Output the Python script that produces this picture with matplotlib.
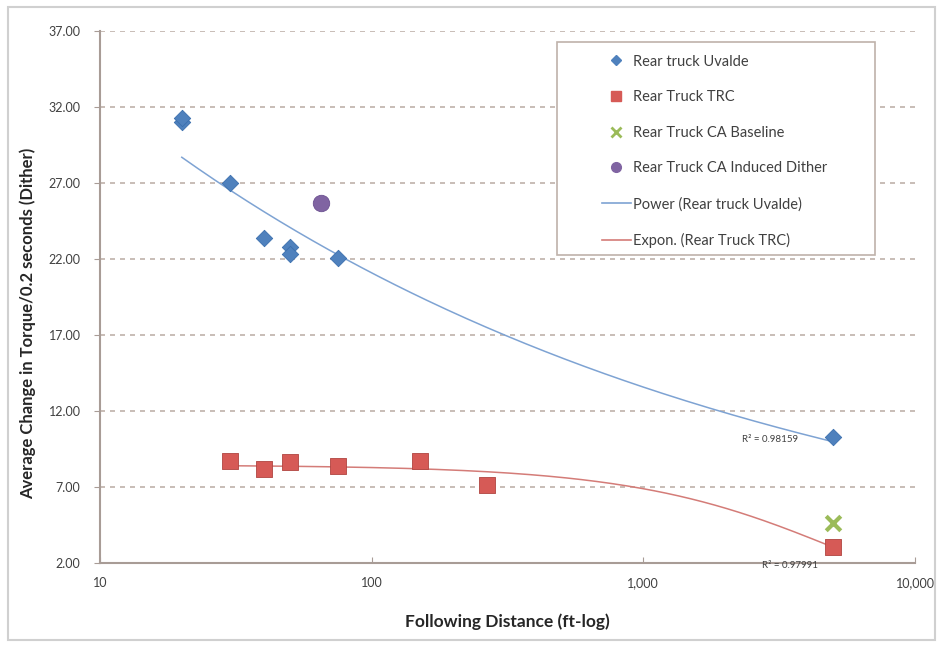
import numpy as np
import matplotlib
matplotlib.use("Agg")
import matplotlib.pyplot as plt
from matplotlib.lines import Line2D
from matplotlib.ticker import FixedLocator, FuncFormatter

plt.rcParams['font.family'] = ['Lato', 'DejaVu Sans']

# ---- data ----
uvalde_x = [20, 20, 30, 40, 50, 50, 75, 5000]
uvalde_y = [31.0, 31.3, 27.0, 23.4, 22.8, 22.3, 22.05, 10.3]

trc_x = [30, 40, 50, 75, 150, 265, 5000]
trc_y = [8.7, 8.2, 8.65, 8.4, 8.7, 7.1, 3.05]

ca_base_x = [5000]
ca_base_y = [4.6]

ca_dither_x = [65]
ca_dither_y = [25.7]

y_ticks = [2, 7, 12, 17, 22, 27, 32, 37]
x_ticks = [10, 100, 1000, 10000]
x_tick_labels = ["10", "100", "1,000", "10,000"]

r2_power = "R² = 0.98159"
r2_expon = "R² = 0.97991"

# ---- colours ----
c_blue = "#4F81BD"
c_red = "#C0504D"
c_green = "#9BBB59"
c_purple = "#8064A2"
c_grid = "#BFB2AA"
c_spine = "#A89C96"
c_text = "#404040"

fig = plt.figure(figsize=(9.41, 6.47), dpi=100)
# outer chart border
fig.patches.append(plt.Rectangle((8/941, 7/647), 927/941, 633/647, transform=fig.transFigure,
                                 fill=False, edgecolor="#D0D0D0", linewidth=1.5))
ax = fig.add_axes([100/941, 1 - 563/647, 815/941, 532/647])

ax.set_xscale("log")
ax.set_xlim(10, 10000)
ax.set_ylim(2, 37)

# trendlines (fitted to the data, Excel-style)
b, ln_a = np.polyfit(np.log(uvalde_x), np.log(uvalde_y), 1)
xs = np.logspace(np.log10(min(uvalde_x)), np.log10(max(uvalde_x)), 200)
ax.plot(xs, np.exp(ln_a) * xs ** b, color="#7EA3D3", lw=1.1, zorder=2)

k, ln_c = np.polyfit(np.array(trc_x, float), np.log(trc_y), 1)
xs2 = np.logspace(np.log10(min(trc_x)), np.log10(max(trc_x)), 200)
ax.plot(xs2, np.exp(ln_c) * np.exp(k * xs2), color="#D47C78", lw=1.1, zorder=2)

# scatter series
ax.scatter(uvalde_x, uvalde_y, marker="D", s=70, color=c_blue, edgecolor="#3A6FAE", lw=0.6, zorder=3)
ax.scatter(trc_x, trc_y, marker="s", s=135, color="#D65A56", edgecolor="#B04440", lw=0.6, zorder=3)
ax.scatter(ca_base_x, ca_base_y, marker="x", s=110, color=c_green, lw=3, zorder=3)
ax.scatter(ca_dither_x, ca_dither_y, marker="o", s=140, color=c_purple, edgecolor="#6B5090", lw=0.6, zorder=3)

# grid
ax.yaxis.set_major_locator(FixedLocator(y_ticks))
ax.yaxis.set_major_formatter(FuncFormatter(lambda v, p: f"{v:.2f}"))
ax.xaxis.set_major_locator(FixedLocator(x_ticks))
ax.xaxis.set_minor_locator(FixedLocator([]))
ax.set_xticklabels(x_tick_labels)
for yv in y_ticks[1:]:
    ax.axhline(yv, color=c_grid, lw=1.2, ls=(0, (3, 3)), zorder=1)

for s in ["top", "right"]:
    ax.spines[s].set_visible(False)
for s in ["left", "bottom"]:
    ax.spines[s].set_color(c_spine)
    ax.spines[s].set_linewidth(1.5)
ax.tick_params(axis="y", length=4, color=c_spine, labelsize=9, labelcolor=c_text, pad=10)
ax.tick_params(axis="x", length=4, color=c_spine, labelsize=9, labelcolor=c_text, direction="in", pad=10)

ax.set_xlabel("Following Distance (ft-log)", fontsize=12.5, fontweight="bold", color="#262626", labelpad=18)
ax.set_ylabel("Average Change in Torque/0.2 seconds (Dither)", fontsize=12, fontweight="bold",
              color="#262626")
ax.yaxis.set_label_coords(36 / 941, 0.5, transform=fig.transFigure)

# R^2 labels
ax.text(770 / 941, 1 - 440 / 647, r2_power, transform=fig.transFigure, fontsize=7,
        color=c_text, ha="center", va="center")
ax.text(790 / 941, 1 - 565 / 647, r2_expon, transform=fig.transFigure, fontsize=7,
        color=c_text, ha="center", va="center")

# legend frame (drawn separately for Excel-like padding)
frame = plt.Rectangle((557 / 941, 1 - 255 / 647), 318 / 941, 213 / 647,
                      transform=fig.transFigure, facecolor="white",
                      edgecolor="#BFB2AA", linewidth=1.2, zorder=4, clip_on=False)
ax.add_patch(frame)
handles = [
    Line2D([], [], ls="none", marker="D", color=c_blue, markersize=5),
    Line2D([], [], ls="none", marker="s", color="#D65A56", markersize=7),
    Line2D([], [], ls="none", marker="x", color=c_green, markersize=7, mew=2),
    Line2D([], [], ls="none", marker="o", color=c_purple, markersize=7),
    Line2D([], [], color="#7EA3D3", lw=1.2),
    Line2D([], [], color="#D47C78", lw=1.2),
]
labels = ["Rear truck Uvalde", "Rear Truck TRC", "Rear Truck CA Baseline",
          "Rear Truck CA Induced Dither", "Power (Rear truck Uvalde)", "Expon. (Rear Truck TRC)"]
leg = ax.legend(handles, labels, loc="upper left", bbox_to_anchor=(587 / 941, 1 - 40 / 647),
                bbox_transform=fig.transFigure, fontsize=10.5, frameon=False,
                labelspacing=1.48, handlelength=2.0, borderpad=0.5, handletextpad=0.15,
                labelcolor=c_text)
leg.set_zorder(5)

fig.savefig("out.png", dpi=100)
